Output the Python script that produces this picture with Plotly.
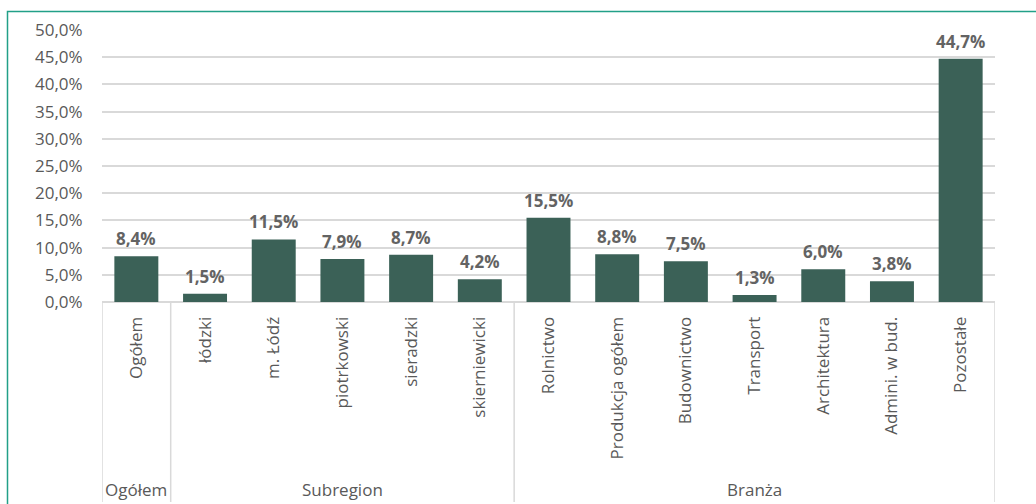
import plotly.graph_objects as go

categories = ["Ogółem", "łódzki", "m. Łódź", "piotrkowski", "sieradzki", "skierniewicki",
              "Rolnictwo", "Produkcja ogółem", "Budownictwo", "Transport", "Architektura",
              "Admini. w bud.", "Pozostałe"]
values = [8.4, 1.5, 11.5, 7.9, 8.7, 4.2, 15.5, 8.8, 7.5, 1.3, 6.0, 3.8, 44.7]
groups = ["Ogółem", "Subregion", "Branża"]
group_sizes = [1, 5, 7]
y_ticks = [0, 5, 10, 15, 20, 25, 30, 35, 40, 45, 50]

FONT = "Open Sans"
GRAY = "#595959"
LINE = "#d9d9d9"
BAR = "#3b6157"

W, H = 1036, 504
L, R, T, B = 102, 41, 30, 202
pw, ph = W - L - R, H - T - B

def px_x(p):
    return (p - L) / pw

def px_y(p):
    return (H - B - p) / ph

def pct(v):
    return ("%.1f" % v).replace(".", ",") + "%"

idx = list(range(len(categories)))

fig = go.Figure()
fig.add_trace(go.Bar(
    x=idx, y=values, marker=dict(color=BAR, line=dict(width=0)),
    hoverinfo="skip", width=0.64,
))

annotations = []
for i, v in zip(idx, values):
    annotations.append(dict(
        x=i, y=v, xref="x", yref="y", text="<b>%s</b>" % pct(v),
        showarrow=False, yanchor="bottom", yshift=4,
        font=dict(family=FONT, size=17, color="#636363"),
    ))

shapes = []
start = -0.5
bounds = [start]
for g, n in zip(groups, group_sizes):
    end = start + n
    annotations.append(dict(
        x=(start + end) / 2, y=px_y(489), xref="x", yref="paper", text=g,
        showarrow=False, yanchor="middle",
        font=dict(family=FONT, size=17, color=GRAY),
    ))
    bounds.append(end)
    start = end
for b in bounds:
    shapes.append(dict(type="line", xref="x", yref="paper", x0=b, x1=b,
                       y0=0, y1=px_y(502), line=dict(color=LINE, width=1.5)))

# outer teal frame
shapes.append(dict(type="rect", xref="paper", yref="paper",
                   x0=px_x(7.5), x1=px_x(1100), y0=px_y(600), y1=px_y(11.5),
                   line=dict(color="#22a088", width=1.5), layer="below"))

fig.update_layout(
    width=W, height=H,
    margin=dict(l=L, r=R, t=T, b=B),
    paper_bgcolor="white", plot_bgcolor="white",
    showlegend=False,
    xaxis=dict(
        tickmode="array", tickvals=idx, ticktext=categories, tickangle=-90,
        range=[-0.5, 12.5], showgrid=False, zeroline=False, showline=False,
        ticks="outside", ticklen=7, tickcolor="rgba(0,0,0,0)",
        tickfont=dict(family=FONT, size=17, color=GRAY),
    ),
    yaxis=dict(
        range=[0, 50], tickmode="array", tickvals=y_ticks,
        ticktext=[pct(t) for t in y_ticks],
        showgrid=True, gridcolor=LINE, gridwidth=1.5,
        zeroline=True, zerolinecolor=LINE, zerolinewidth=1.5,
        showline=False, ticks="outside", ticklen=15, tickcolor="rgba(0,0,0,0)",
        tickfont=dict(family=FONT, size=17, color=GRAY),
    ),
    annotations=annotations,
    shapes=shapes,
)

fig.write_html("out.html", config={"displayModeBar": False},
               post_script="document.body.style.margin='0px';document.body.style.overflow='hidden';")
